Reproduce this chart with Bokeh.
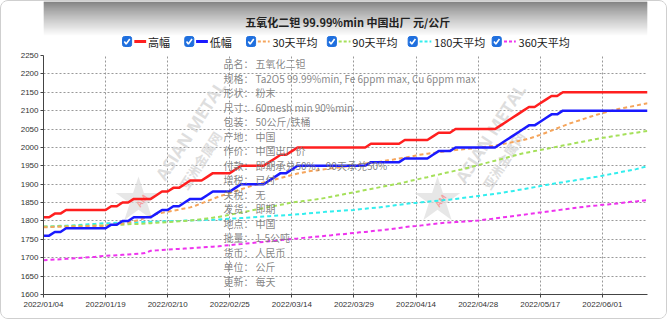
from bokeh.plotting import figure
from bokeh.models import Range1d, FixedTicker, ColumnDataSource
from bokeh.layouts import column
from bokeh.embed import file_html
from bokeh.resources import INLINE
from bokeh.core.properties import value

title_text = "五氧化二钽 99.99%min 中国出厂 元/公斤"
series_names = ["高幅", "低幅", "30天平均", "90天平均", "180天平均", "360天平均"]
series_colors = ["#ff1f1f", "#1a1aff", "#f5a55c", "#a5e05a", "#33eeee", "#ee33ee"]
tick_labels = ["2022/01/04", "2022/01/19", "2022/02/10", "2022/02/25", "2022/03/14",
               "2022/03/29", "2022/04/14", "2022/04/28", "2022/05/17", "2022/06/01"]
y_ticks = [1600, 1650, 1700, 1750, 1800, 1850, 1900, 1950, 2000, 2050, 2100, 2150, 2200, 2250]

high = [1810, 1810, 1820, 1820, 1830, 1830, 1830, 1830, 1830, 1830, 1830, 1830,
        1840, 1840, 1850, 1850, 1860, 1860, 1860, 1860, 1870, 1880, 1880, 1890,
        1890, 1900, 1910, 1910, 1910, 1920, 1930, 1930, 1930, 1930, 1940, 1950,
        1950, 1950, 1950, 1950, 1960, 1970, 1980, 1980, 1990, 2000,
        2000, 2000, 2000, 2000, 2000, 2000, 2000, 2000, 2000, 2000, 2000, 2000,
        2010, 2010, 2010, 2010, 2010, 2010,
        2020, 2020, 2020, 2020, 2020,
        2030, 2040, 2040, 2040,
        2050, 2050, 2050, 2050, 2050, 2050, 2050, 2050,
        2060, 2070, 2080, 2090, 2100, 2110, 2110, 2120, 2130, 2140, 2140,
        2150, 2150, 2150, 2150, 2150, 2150, 2150, 2150, 2150, 2150, 2150, 2150,
        2150, 2150, 2150, 2150]
low = [1760, 1760, 1770, 1770, 1780, 1780, 1780, 1780, 1780, 1780, 1780, 1780,
       1790, 1790, 1800, 1800, 1810, 1810, 1810, 1810, 1820, 1830, 1830, 1840,
       1840, 1850, 1860, 1860, 1860, 1870, 1880, 1880, 1880, 1880, 1890, 1900,
       1900, 1900, 1900, 1900, 1910, 1920, 1930, 1930, 1940, 1950,
       1950, 1950, 1950, 1950, 1950, 1950, 1950, 1950, 1950, 1950, 1950, 1950,
       1960, 1960, 1960, 1960, 1960, 1960,
       1970, 1970, 1970, 1970, 1970,
       1980, 1990, 1990, 1990,
       2000, 2000, 2000, 2000, 2000, 2000, 2000, 2000,
       2010, 2020, 2030, 2040, 2050, 2060, 2060, 2070, 2080, 2090, 2090,
       2100, 2100, 2100, 2100, 2100, 2100, 2100, 2100, 2100, 2100, 2100, 2100,
       2100, 2100, 2100, 2100]
avg30 = [1783, 1783, 1784, 1784, 1784, 1785, 1785, 1785, 1786, 1786, 1786, 1787,
         1789, 1791, 1793, 1796, 1799, 1803, 1808, 1813,
         1819, 1822, 1825, 1828, 1831, 1834,
         1837, 1842, 1848, 1854, 1860, 1866, 1871, 1876, 1881, 1886,
         1891, 1896, 1900, 1905, 1909, 1913, 1917, 1921, 1925, 1929,
         1932, 1935, 1937, 1939, 1941, 1943, 1945, 1947, 1949, 1951, 1953, 1956,
         1958, 1960, 1962, 1965, 1967, 1970, 1972, 1975, 1978, 1981,
         1983, 1985, 1987, 1989, 1991, 1993, 1994, 1996, 1997, 1999, 2001, 2003,
         2005, 2008, 2011, 2014, 2017, 2020, 2024, 2029, 2034, 2040, 2046, 2052,
         2058, 2064, 2069, 2074, 2079, 2084, 2089, 2093, 2097, 2101, 2105, 2108,
         2111, 2114, 2117, 2120]
avg90 = [1785, 1785, 1785, 1786, 1786, 1786, 1787, 1787, 1787, 1788, 1788, 1789,
         1789, 1790, 1790, 1791, 1792, 1792, 1793, 1794, 1795, 1796, 1797, 1798, 1799, 1800,
         1801, 1803, 1805, 1807, 1809, 1811, 1814, 1817, 1820, 1823, 1826, 1829,
         1832, 1835, 1838, 1841, 1844, 1847, 1850, 1852, 1854, 1856, 1858, 1860,
         1863, 1866, 1869, 1872, 1875, 1878, 1881, 1884, 1887, 1890, 1893, 1896, 1899, 1902,
         1905, 1909, 1912, 1916, 1919, 1923, 1926, 1930, 1933, 1937, 1940,
         1944, 1948, 1952, 1956, 1960, 1964, 1968, 1972, 1976, 1980, 1984, 1987,
         1990, 1993, 1996, 1999, 2002, 2005, 2008, 2011, 2014, 2017, 2020, 2023,
         2026, 2028, 2031, 2033, 2036, 2038, 2040, 2043, 2045]
avg180 = [1784, 1785, 1786, 1787, 1787, 1788, 1789, 1790, 1791, 1792, 1793, 1794,
          1794, 1795, 1795, 1796, 1796, 1797, 1797, 1798, 1798, 1799, 1799, 1800, 1800, 1801,
          1801, 1802, 1802, 1803, 1803, 1804, 1805, 1806, 1807, 1808, 1809, 1810,
          1811, 1812, 1813, 1814, 1815, 1816, 1817, 1818, 1819, 1821, 1822, 1823,
          1825, 1826, 1827, 1828, 1829, 1830, 1832, 1833, 1835, 1836, 1838, 1840, 1842, 1844,
          1846, 1848, 1849, 1851, 1852, 1854, 1855, 1857, 1858, 1860, 1862,
          1864, 1866, 1868, 1870, 1872, 1874, 1876, 1879, 1881, 1884, 1886, 1889,
          1892, 1895, 1898, 1900, 1903, 1905, 1908, 1910, 1913, 1915, 1918, 1920,
          1923, 1926, 1929, 1932, 1935, 1938, 1941, 1945, 1949]
avg360 = [1693, 1694, 1695, 1696, 1697, 1698, 1699, 1700, 1701, 1702, 1704, 1705,
          1706, 1707, 1708, 1709, 1710, 1711, 1713,
          1719, 1720, 1721, 1722, 1723, 1724, 1725,
          1726, 1727, 1728, 1729, 1730, 1731, 1733, 1734, 1736, 1737, 1739, 1740,
          1742, 1743, 1745, 1746, 1748, 1749, 1751, 1752, 1754, 1755, 1757, 1758,
          1760, 1761, 1763, 1764, 1766, 1767, 1769, 1770, 1772, 1774, 1775, 1777, 1779, 1781,
          1783, 1785, 1786, 1788, 1790, 1792, 1793, 1795, 1796, 1797, 1798,
          1799, 1800, 1801, 1803, 1805, 1807, 1809, 1811, 1813, 1815, 1817, 1819,
          1821, 1823, 1825, 1827, 1829, 1831, 1833, 1835, 1837, 1839, 1841, 1842,
          1844, 1845, 1847, 1848, 1850, 1852, 1853, 1855, 1857]

info_labels = ["品名：", "规格：", "形状：", "尺寸：", "包装：", "产地：", "作价：", "付款：",
               "增税：", "关税：", "发货：", "地点：", "批量：", "货币：", "单位：", "更新："]
info_values = ["五氧化二钽", "Ta2O5 99.99%min, Fe 6ppm max, Cu 6ppm max", "粉末",
               "60mesh min 90%min", "50公斤/铁桶", "中国", "中国出厂价",
               "即期承兑50%，90天承兑50%", "已付", "无", "即期", "中国", "1-5公吨",
               "人民币", "公斤", "每天"]

TICK_EVERY = 11
n = len(high)
idx = list(range(n))
src = ColumnDataSource(dict(x=idx, high=high, low=low, a30=avg30, a90=avg90,
                            a180=avg180, a360=avg360))

W = 665
HEAD_H = 48
MAIN_H = 269
CJK = "Noto Sans CJK SC"

# ---------------- header ----------------
h = figure(width=W, height=HEAD_H, x_range=Range1d(0, W), y_range=Range1d(HEAD_H, 0),
           output_backend="svg", toolbar_location=None, x_axis_location=None,
           y_axis_location=None, min_border=0)
h.grid.visible = False
h.outline_line_color = None
h.background_fill_color = "white"
h.border_fill_color = "white"

bands_top = list(range(36))
band_cols = []
for k in bands_top:
    t = min(1.0, (k / 34.0) ** 0.85)
    g = int(88 + (255 - 88) * t)
    band_cols.append("#%02x%02x%02x" % (g, g, g))
h.quad(left=0, right=W, top=bands_top, bottom=[k + 1 for k in bands_top],
       fill_color=band_cols, line_color=None)

h.text(x=[335], y=[20], text=[title_text], text_align="center", text_baseline="middle",
       text_font=value(CJK), text_font_style="bold", text_font_size="11px",
       text_color="#222222")

cb_x = [92, 160.5, 228.5, 317.5, 406.5, 499]
leg_y = 40
line_x0 = [100, 168, 236, 325, 414, 507]
label_x = [115, 183, 252, 340, 430, 523]
dashes = ["solid", "solid", "3 2", "3 2", "3 2", "3 2"]
for i, name in enumerate(series_names):
    h.rect(x=[cb_x[i]], y=[leg_y], width=10, height=10, fill_color="#1f6fde",
           line_color="#1f6fde", border_radius=2)
    h.line(x=[cb_x[i] - 3, cb_x[i] - 1, cb_x[i] + 3],
           y=[leg_y, leg_y + 2.5, leg_y - 2.5], line_color="white", line_width=1.6)
    h.segment(x0=[line_x0[i]], y0=[leg_y], x1=[line_x0[i] + 13], y1=[leg_y],
              line_color=series_colors[i], line_width=3 if i < 2 else 2,
              line_dash=dashes[i])
    h.text(x=[label_x[i]], y=[leg_y], text=[name], text_baseline="middle",
           text_font=value(CJK), text_font_size="11px", text_color="#222222")

# ---------------- main plot ----------------
p = figure(width=W, height=MAIN_H, x_range=Range1d(0, n - 1), y_range=Range1d(1600, 2250),
           output_backend="svg", toolbar_location=None,
           min_border_left=42, min_border_right=19, min_border_top=6, min_border_bottom=24)
p.outline_line_color = None
p.background_fill_color = "white"
p.border_fill_color = "white"

p.xaxis.ticker = FixedTicker(ticks=[k * TICK_EVERY for k in range(len(tick_labels))])
p.xaxis.major_label_overrides = {k * TICK_EVERY: lab for k, lab in enumerate(tick_labels)}
p.yaxis.ticker = FixedTicker(ticks=y_ticks)
for ax in (p.xaxis, p.yaxis):
    ax.axis_line_color = "#444444"
    ax.major_tick_line_color = "#444444"
    ax.major_tick_out = 3
    ax.major_tick_in = 0
    ax.minor_tick_line_color = None
    ax.major_label_text_font = "Liberation Sans"
    ax.major_label_text_font_size = "8px"
    ax.major_label_text_color = "#333333"
    ax.major_label_standoff = 2
p.grid.grid_line_color = "#999999"
p.grid.grid_line_dash = "2 2"
p.grid.grid_line_width = 1


def dx(px):
    return (px - 43) / 604.0 * (n - 1)


def dy(py):
    return 2250 - (py - 55) / 239.0 * 650


# watermarks
for sx, tx, ty, cx, cy in [(138, 190, 130, 200, 160), (437, 490, 133, 503, 160)]:
    p.scatter(x=[dx(sx)], y=[dy(sx and 200)], marker="star", size=48,
              fill_color="#dddddd", line_color=None, fill_alpha=0.7)
    p.text(x=[dx(sx + 3)], y=[dy(200)], text=["AM"], text_align="center",
           text_baseline="middle", text_font=value("Open Sans"), text_font_style="bold",
           text_font_size="8px", text_color="#f4a0a0", angle=0.95)
    p.text(x=[dx(tx)], y=[dy(ty)], text=["ASIAN METAL"], text_align="center",
           text_baseline="middle", text_font=value("Open Sans"), text_font_style="bold",
           text_font_size="17px", text_color="#d6d6d6", text_alpha=0.8, angle=1.0)
    p.text(x=[dx(cx)], y=[dy(cy)], text=["亚洲金属网"], text_align="center",
           text_baseline="middle", text_font=value(CJK), text_font_style="bold",
           text_font_size="13px", text_color="#d6d6d6", text_alpha=0.8, angle=1.0)

styles = [("a360", 5), ("a180", 4), ("a90", 3), ("a30", 2)]
for col, ci in styles:
    p.line(x="x", y=col, source=src, line_color=series_colors[ci], line_width=2,
           line_dash="4 3")
p.line(x="x", y="low", source=src, line_color=series_colors[1], line_width=2.5)
p.line(x="x", y="high", source=src, line_color=series_colors[0], line_width=2.5)

row_y = [63.3 + 14.5 * k for k in range(len(info_labels))]
p.text(x=[dx(223)] * len(info_labels), y=[dy(v) for v in row_y], text=info_labels,
       text_baseline="middle", text_font=value(CJK), text_font_size="10px",
       text_color="#777777", text_alpha=0.9)
p.text(x=[dx(255)] * len(info_values), y=[dy(v) for v in row_y], text=info_values,
       text_baseline="middle", text_font=value(CJK), text_font_size="10px",
       text_color="#777777", text_alpha=0.9)

layout = column(h, p, spacing=0,
                styles={"border": "1px solid #cfcfcf", "border-radius": "8px",
                        "overflow": "hidden", "background": "white"})

open("out.html", "w").write(file_html(layout, INLINE))
